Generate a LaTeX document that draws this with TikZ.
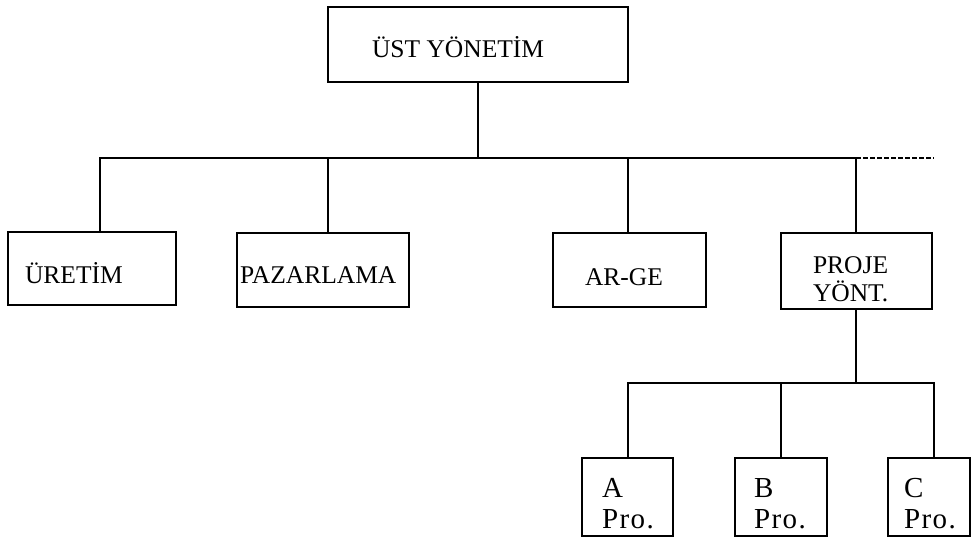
\documentclass[tikz,border=0pt]{standalone}
\usepackage{fontspec}
\setmainfont{Liberation Serif}

% one or two left-aligned lines of fixed width inside a box
\newcommand\lineone[2]{\hbox to #1{#2\hfil}}
\newcommand\linetwo[4]{\vtop{\baselineskip=#2\relax\hbox to #1{#3\hfil}\hbox to #1{#4\hfil}}}

\tikzset{
  unit/.style={draw, line width=1.7pt, rectangle, anchor=north west,
    inner ysep=0pt, outer sep=0pt, font=\fontsize{25.5}{30}\selectfont},
  projunit/.style={unit, font=\fontsize{29}{31}\selectfont\addfontfeature{LetterSpace=5}},
  pads/.style n args={3}{inner xsep=#1, text height=#2, text depth=#3},
  wire/.style={line width=1.7pt, line cap=rect},
  dashwire/.style={line width=1.9pt, dash pattern=on 5pt off 2pt}
}

\begin{document}
\begin{tikzpicture}[x=1pt, y=-1pt]
  \fill[white] (0,0) rectangle (972,538);
  \useasboundingbox (0,0) rectangle (972,538);

  % top management
  \node[unit, pads={44pt}{50pt}{25pt}] (top) at (328,7) {\lineone{212pt}{ÜST YÖNETİM}};

  % departments
  \node[unit, pads={17pt}{51pt}{22pt}] (uretim) at (8,232) {\lineone{134pt}{ÜRETİM}};
  \node[unit, pads={3pt}{50pt}{24pt}] (pazar) at (237,233) {\lineone{166pt}{PAZARLAMA}};
  \node[unit, pads={32pt}{52pt}{22pt}] (arge) at (553,233) {\lineone{89pt}{AR-GE}};
  \node[unit, pads={32pt}{40pt}{36pt}] (proje) at (781,233) {\linetwo{87pt}{28pt}{PROJE}{YÖNT.}};

  % projects
  \node[projunit, pads={20pt}{39pt}{39pt}] (apro) at (582,458) {\linetwo{51pt}{31pt}{A}{Pro.}};
  \node[projunit, pads={19pt}{39pt}{39pt}] (bpro) at (735,458) {\linetwo{54pt}{31pt}{B}{Pro.}};
  \node[projunit, pads={16pt}{39pt}{39pt}] (cpro) at (888,458) {\linetwo{50pt}{31pt}{C}{Pro.}};

  % first level bus
  \coordinate (j0) at (478,158);
  \coordinate (j1) at (100,158);
  \coordinate (j2) at (328,158);
  \coordinate (j3) at (628,158);
  \coordinate (j4) at (856,158);
  \coordinate (jend) at (934,158);
  \draw[wire] (j0 |- top.south) -- (j0);
  \draw[wire] (j1) -- (j4);
  \draw[dashwire] (j4) -- (jend);
  \draw[wire] (j1) -- (j1 |- uretim.north);
  \draw[wire] (j2) -- (j2 |- pazar.north);
  \draw[wire] (j3) -- (j3 |- arge.north);
  \draw[wire] (j4) -- (j4 |- proje.north);

  % project bus
  \coordinate (k1) at (628,383);
  \coordinate (k2) at (781,383);
  \coordinate (k3) at (934,383);
  \draw[wire] (j4 |- proje.south) -- (j4 |- k1);
  \draw[wire] (k1) -- (k3);
  \draw[wire] (k1) -- (k1 |- apro.north);
  \draw[wire] (k2) -- (k2 |- bpro.north);
  \draw[wire] (k3) -- (k3 |- cpro.north);
\end{tikzpicture}
\end{document}
